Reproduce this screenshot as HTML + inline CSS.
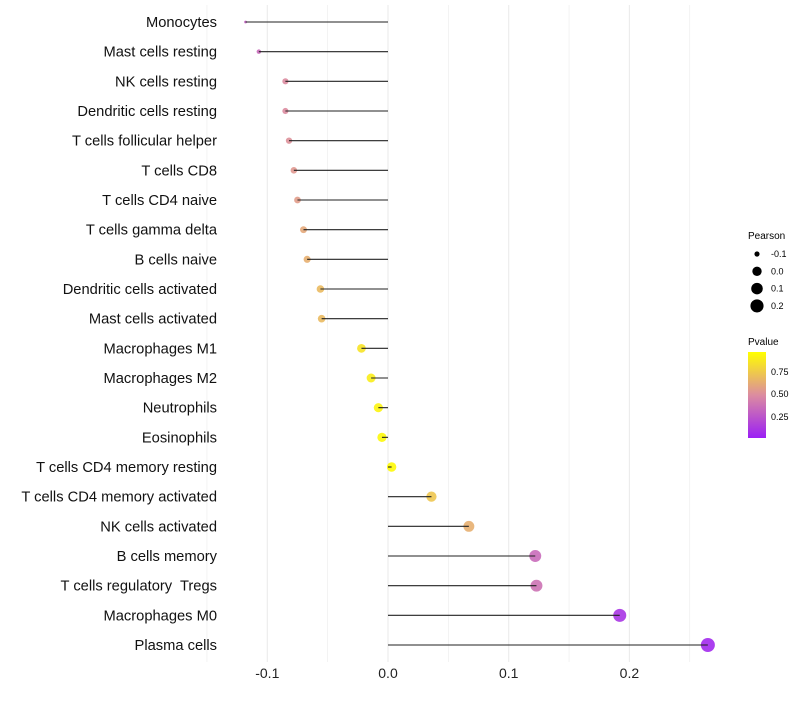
<!DOCTYPE html>
<html><head><meta charset="utf-8"><style>
body{margin:0;background:#fff;}
svg text{font-family:"Liberation Sans",sans-serif;white-space:pre;}
</style></head><body>
<svg id="chart" width="800" height="700">
<g id="grid"></g>
<g id="marks"></g>
<g id="ylabels"></g>
<g id="xlabels"></g>
<g>
<text x="748" y="239" font-size="10">Pearson</text>
<g id="sizeleg"></g>
</g>
<g>
<text x="748" y="345" font-size="10">Pvalue</text>
<defs><linearGradient id="pg" x1="0" y1="1" x2="0" y2="0">
<stop offset="0" stop-color="#9b1ff5"/><stop offset="0.5" stop-color="#dc8ca0"/><stop offset="1" stop-color="#ffff00"/>
</linearGradient></defs>
<rect x="748" y="352" width="18" height="86" fill="url(#pg)"/>
<text x="771" y="375" font-size="9">0.75</text>
<text x="771" y="397" font-size="9">0.50</text>
<text x="771" y="420" font-size="9">0.25</text>
</g>
</svg>
<script>
const cells=["Monocytes","Mast cells resting","NK cells resting","Dendritic cells resting","T cells follicular helper","T cells CD8","T cells CD4 naive","T cells gamma delta","B cells naive","Dendritic cells activated","Mast cells activated","Macrophages M1","Macrophages M2","Neutrophils","Eosinophils","T cells CD4 memory resting","T cells CD4 memory activated","NK cells activated","B cells memory","T cells regulatory  Tregs","Macrophages M0","Plasma cells"];
const pearson=[-0.118,-0.107,-0.085,-0.085,-0.082,-0.078,-0.075,-0.070,-0.067,-0.056,-0.055,-0.022,-0.014,-0.008,-0.005,0.003,0.036,0.067,0.122,0.123,0.192,0.265];
const pvalue=[0.3,0.35,0.5,0.5,0.52,0.55,0.57,0.62,0.65,0.7,0.7,0.88,0.92,0.95,0.97,0.98,0.75,0.65,0.35,0.38,0.1,0.05];
const xticks=[-0.1,0.0,0.1,0.2];
const xtickLabels=["-0.1","0.0","0.1","0.2"];
const sizeLegend=[-0.1,0.0,0.1,0.2];
const NS="http://www.w3.org/2000/svg";
const X=v=>388+v*1207;
const Y=i=>22+i*29.667;
const R=v=>9.77*Math.pow(Math.max(v+0.122,0.002),0.35);
function lerp(a,b,t){return a.map((x,i)=>Math.round(x+(b[i]-x)*t));}
function col(p){const s0=[155,31,245],s1=[220,140,160],s2=[255,255,0];
 const c=p<0.5?lerp(s0,s1,p/0.5):lerp(s1,s2,(p-0.5)/0.5);return `rgb(${c})`;}
function mk(t,a,p){const e=document.createElementNS(NS,t);for(const k in a)e.setAttribute(k,a[k]);p.appendChild(e);return e;}
const g=document.getElementById('grid'),m=document.getElementById('marks'),yl=document.getElementById('ylabels'),xl=document.getElementById('xlabels');
[-0.15,-0.05,0.05,0.15,0.25].concat(xticks).forEach(v=>{
 const l=mk('line',{x1:X(v),x2:X(v),y1:5,y2:662,stroke:'#ebebeb','stroke-width':xticks.includes(v)?1.1:0.6},g);
 
 
});
xticks.forEach((v,i)=>{
 const t=mk('text',{x:X(v),y:678,'font-size':14,'text-anchor':'middle',fill:'#222'},xl);t.textContent=xtickLabels[i];
 
 
});
cells.forEach((c,i)=>{
 const y=Y(i);
 const t=mk('text',{x:217,y:y+5,'font-size':14.7,'text-anchor':'end',fill:'#111'},yl);t.textContent=c;
 
 
 const d=mk('circle',{cx:X(pearson[i]),cy:y,r:R(pearson[i]),fill:col(pvalue[i]),'fill-opacity':0.9},m);
 
 
 const l=mk('line',{x1:X(0),x2:X(pearson[i]),y1:y,y2:y,stroke:'#222','stroke-width':1.1},m);
 
 
});
const sl=document.getElementById('sizeleg');
sizeLegend.forEach((v,i)=>{
 const y=254+i*17.3;
 const c=mk('circle',{cx:757,cy:y,r:R(v),fill:'#000'},sl);
 
 
 const t=mk('text',{x:771,y:y+3,'font-size':9},sl);t.textContent=v.toFixed(1);
 
 
});
</script>
</body></html>
